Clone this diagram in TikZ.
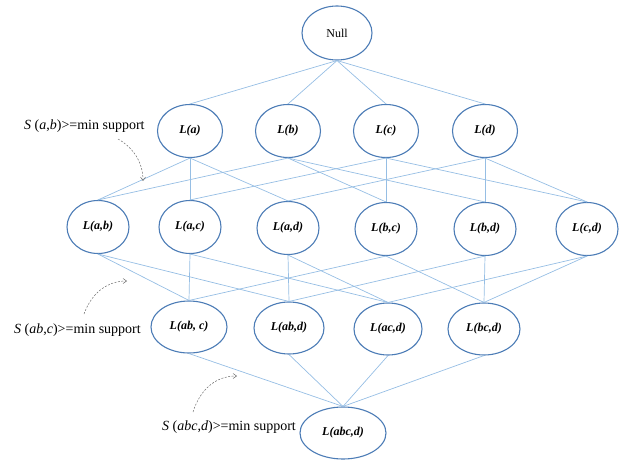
\documentclass[tikz,border=0pt]{standalone}
\usepackage{fontspec}
\setmainfont{Liberation Serif}
\usetikzlibrary{shapes.geometric,arrows.meta}
\definecolor{ovalblue}{RGB}{76,124,182}
\definecolor{edgeblue}{RGB}{150,190,228}
\definecolor{hintgray}{RGB}{110,110,110}
\begin{document}
\begin{tikzpicture}[x=1pt,y=-1pt,
  oval/.style={ellipse,draw=ovalblue,line width=1.1pt,fill=white,inner sep=0pt,
    minimum height=52pt,font=\fontsize{12}{14}\selectfont\bfseries\itshape},
  edge/.style={draw=edgeblue,line width=0.7pt},
  hint/.style={font=\fontsize{14}{16}\selectfont,anchor=west,inner sep=0pt},
  hintarrow/.style={draw=hintgray,line width=0.5pt,dash pattern=on 2pt off 1.5pt,-{Straight Barb[length=3.5pt,width=5pt]}}]
\useasboundingbox (0,0) rectangle (624,460);

\node[oval,minimum width=70pt,minimum height=54pt,font=\fontsize{12}{14}\selectfont] (null) at (337,33) {Null};

\node[oval,minimum width=65pt,minimum height=53pt] (a) at (190,131) {L(a)};
\node[oval,minimum width=65pt,minimum height=53pt] (b) at (288,131) {L(b)};
\node[oval,minimum width=65pt,minimum height=53pt] (c) at (386,131) {L(c)};
\node[oval,minimum width=65pt,minimum height=53pt] (d) at (485,131) {L(d)};

\node[oval,minimum width=62pt,minimum height=53pt] (ab) at (98,227) {L(a,b)};
\node[oval,minimum width=62pt,minimum height=53pt] (ac) at (190,227) {L(a,c)};
\node[oval,minimum width=62pt,minimum height=53pt] (ad) at (288,228) {L(a,d)};
\node[oval,minimum width=62pt,minimum height=53pt] (bc) at (386,229) {L(b,c)};
\node[oval,minimum width=62pt,minimum height=53pt] (bd) at (485,229) {L(b,d)};
\node[oval,minimum width=62pt,minimum height=53pt] (cd) at (587,229) {L(c,d)};

\node[oval,minimum width=76pt] (abc) at (189,327) {L(ab, c)};
\node[oval,minimum width=70pt] (abd) at (289,328) {L(ab,d)};
\node[oval,minimum width=68pt] (acd) at (388,329) {L(ac,d)};
\node[oval,minimum width=72pt] (bcd) at (484,329) {L(bc,d)};

\node[oval,minimum width=86pt] (abcd) at (343,433) {L(abc,d)};

% connectors
\foreach \t in {a,b,c,d} \path[edge] (null.south) -- (\t.north);
\foreach \s/\t in {a/ab,a/ac,a/ad,b/ab,b/bc,b/bd,c/ac,c/bc,c/cd,d/ad,d/bd,d/cd}
  \path[edge] (\s.south) -- (\t.north);
\foreach \s/\t in {ab/abc,ac/abc,bc/abc,ab/abd,ad/abd,bd/abd,ac/acd,ad/acd,cd/acd,bc/bcd,bd/bcd,cd/bcd}
  \path[edge] (\s.south) -- (\t.north);
\foreach \s in {abc,abd,acd,bcd} \path[edge] (\s.south) -- (abcd.north);

% hint labels
\node[hint] (h1) at (24,126) {\textit{S} (\textit{a},\textit{b})>=min support};
\node[hint] (h2) at (14,330) {\textit{S} (\textit{ab},\textit{c})>=min support};
\node[hint] (h3) at (162,427) {\textit{S} (\textit{abc},\textit{d})>=min support};

\coordinate (s1) at (118,139);
\coordinate (e1) at (143,181);
\coordinate (s2) at (84,314);
\coordinate (e2) at (127,281);
\coordinate (s3) at (193,412);
\coordinate (e3) at (237,376);
\draw[hintarrow] (s1) .. controls (134,148) and (143,163) .. (e1);
\draw[hintarrow] (s2) .. controls (92,292) and (108,281) .. (e2);
\draw[hintarrow] (s3) .. controls (200,390) and (215,376) .. (e3);
\end{tikzpicture}
\end{document}
